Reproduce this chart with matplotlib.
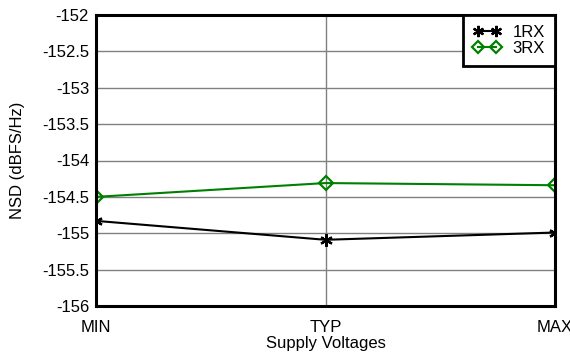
import matplotlib
matplotlib.use("Agg")
from matplotlib import pyplot as plt

plt.rcParams['font.family'] = ['Liberation Sans', 'DejaVu Sans']

# supply voltage corners
supply = ["MIN", "TYP", "MAX"]
nsd_1rx = [-154.83, -155.09, -154.99]
nsd_3rx = [-154.50, -154.31, -154.34]

fig = plt.figure(figsize=(5.7, 3.52), dpi=100)
ax = fig.add_axes([96/570, 46/352, (555-96)/570, (306-15)/352])

x = range(len(supply))
ax.plot(x, nsd_1rx, color="black", lw=1.5, marker=(6, 2, 0), ms=9, mew=1.6,
        label="1RX")
ax.plot(x, nsd_3rx, color="#008000", lw=1.5, marker="D", ms=7, mfc="none",
        mew=1.6, label="3RX")

ax.set_xlim(0, 2)
ax.set_ylim(-156, -152)
ax.set_xticks(list(x))
ax.set_xticklabels(supply)
ax.set_yticks([-156, -155.5, -155, -154.5, -154, -153.5, -153, -152.5, -152])
ax.set_yticklabels(["-156", "-155.5", "-155", "-154.5", "-154", "-153.5",
                    "-153", "-152.5", "-152"])
ax.tick_params(length=0, labelsize=12, colors="black")
ax.tick_params(axis="x", pad=10)
ax.tick_params(axis="y", pad=5)
ax.grid(True, color="#808080", lw=1)
for s in ax.spines.values():
    s.set_linewidth(2.2)
    s.set_color("black")

ax.set_xlabel("Supply Voltages", fontsize=12, labelpad=1)
ax.set_ylabel("NSD (dBFS/Hz)", fontsize=12, labelpad=12)

leg = ax.legend(loc="upper right", fontsize=12, frameon=True, fancybox=False,
                borderaxespad=0, numpoints=2, markerscale=0.9,
                handlelength=1.7, handletextpad=0.7,
                labelspacing=0.05, borderpad=0.6)
leg.get_frame().set_edgecolor("black")
leg.get_frame().set_linewidth(2)
leg.get_frame().set_alpha(1)

fig.savefig("out.png", dpi=100)
